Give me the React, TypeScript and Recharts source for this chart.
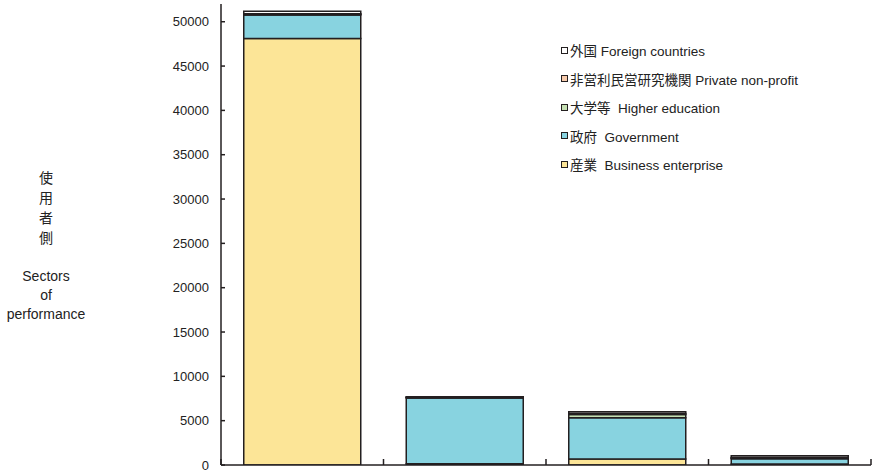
import React from "react";
import { BarChart, Bar, XAxis, YAxis, Legend, Label } from "recharts";

const categories = ["産業", "政府", "大学等", "外国"];
const business = [48100, 150, 680, 100];
const government = [2650, 7400, 4660, 600];
const higherEd = [80, 50, 350, 80];
const privateNonProfit = [60, 50, 120, 70];
const foreign = [300, 50, 200, 200];

const seriesKeys = ["business", "government", "higherEd", "privateNonProfit", "foreign"];
const seriesNames = [
  "産業  Business enterprise",
  "政府  Government",
  "大学等  Higher education",
  "非営利民営研究機関 Private non-profit",
  "外国 Foreign countries",
];
const seriesColors = ["#FCE597", "#88D3E0", "#C5E0B3", "#F7CBAC", "#FFFFFF"];
const yTicks = [0, 5000, 10000, 15000, 20000, 25000, 30000, 35000, 40000, 45000, 50000];
const yTitleJa = ["使", "用", "者", "側"];
const yTitleEn = ["Sectors", "of", "performance"];

const data = categories.map((c, i) => ({
  category: c,
  business: business[i],
  government: government[i],
  higherEd: higherEd[i],
  privateNonProfit: privateNonProfit[i],
  foreign: foreign[i],
}));

const FONT = '"Liberation Sans", "Noto Sans CJK JP", sans-serif';
const INK = "#231f20";

const renderLegend = (props: any) => {
  const items = [...(props.payload || [])].sort(
    (a: any, b: any) => seriesKeys.indexOf(b.dataKey) - seriesKeys.indexOf(a.dataKey)
  );
  return (
    <div style={{ fontFamily: FONT, fontSize: 13.5, color: "#222" }}>
      {items.map((it: any) => (
        <div key={it.value} style={{ height: 28.5, display: "flex", alignItems: "center", whiteSpace: "pre" }}>
          <span
            style={{
              display: "inline-block",
              width: 5,
              height: 5,
              border: `1.5px solid ${INK}`,
              background: it.color,
              marginRight: 2,
            }}
          />
          <span>{it.value}</span>
        </div>
      ))}
    </div>
  );
};

const renderYTitle = (props: any) => {
  const vb = props.viewBox || { x: 0, y: 0 };
  const cx = vb.x + 46;
  return (
    <g fontFamily={FONT} fontSize={14} fill="#222" textAnchor="middle">
      {yTitleJa.map((t, i) => (
        <text key={"j" + i} x={cx} y={178 + i * 20} dominantBaseline="central">
          {t}
        </text>
      ))}
      {yTitleEn.map((t, i) => (
        <text key={"e" + i} x={cx} y={276 + i * 19} dominantBaseline="central">
          {t}
        </text>
      ))}
    </g>
  );
};

const BoundaryTick = (props: any) => {
  const { x, y, payload, width, visibleTicksCount, index } = props;
  const half =
    payload && typeof payload.offset === "number" && payload.offset > 0
      ? payload.offset
      : width / (visibleTicksCount || 4) / 2;
  const left = x - half;
  const right = x + half;
  return (
    <g>
      <line x1={left} x2={left} y1={y} y2={y - 6} stroke={INK} strokeWidth={1.5} />
      {index === (visibleTicksCount || 4) - 1 && (
        <line x1={right} x2={right} y1={y} y2={y - 6} stroke={INK} strokeWidth={1.5} />
      )}
    </g>
  );
};

export default function App() {
  return (
    <div style={{ position: "absolute", left: 0, top: 0 }}>
      <BarChart
        width={875}
        height={473}
        data={data}
        margin={{ top: 4, right: 4, bottom: 0, left: 0 }}
        barCategoryGap="14%"
      >
        <XAxis
          dataKey="category"
          height={8}
          interval={0}
          tickSize={0}
          tickMargin={0}
          tickLine={false}
          tick={<BoundaryTick />}
          axisLine={{ stroke: INK, strokeWidth: 1.5 }}
        />
        <YAxis
          width={221}
          domain={[0, 52000]}
          ticks={yTicks}
          interval={0}
          allowDataOverflow
          tickSize={-4}
          tickMargin={16}
          tick={{ fontSize: 13, fill: "#222", fontFamily: FONT }}
          axisLine={{ stroke: INK, strokeWidth: 1.5 }}
          tickLine={{ stroke: INK, strokeWidth: 1.5 }}
        >
          <Label content={renderYTitle} />
        </YAxis>
        <Legend
          layout="vertical"
          align="center"
          verticalAlign="middle"
          content={renderLegend}
          wrapperStyle={{ left: 561, top: 36, width: 290 }}
        />
        {seriesKeys.map((k, i) => (
          <Bar
            key={k}
            dataKey={k}
            name={seriesNames[i]}
            stackId="a"
            fill={seriesColors[i]}
            stroke={INK}
            strokeWidth={1.5}
            isAnimationActive={false}
          />
        ))}
      </BarChart>
    </div>
  );
}
